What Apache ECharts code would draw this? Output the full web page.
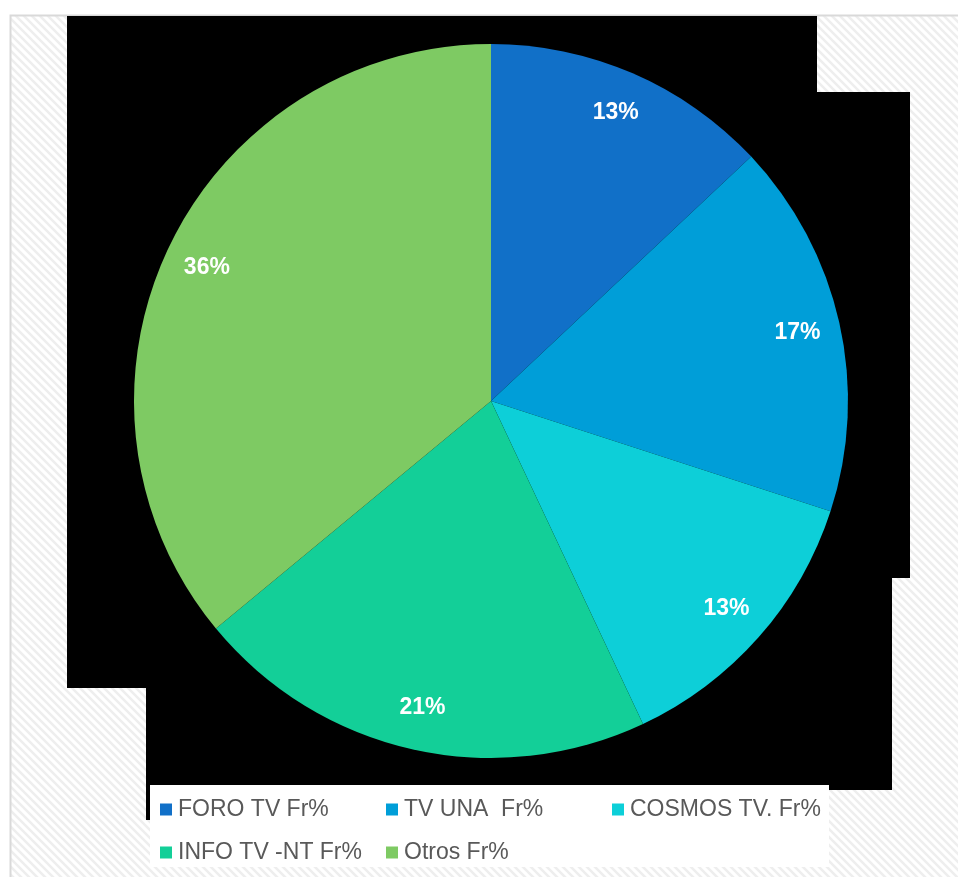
<!DOCTYPE html>
<html>
<head>
<meta charset="utf-8">
<script src="https://cdn.jsdelivr.net/npm/echarts@6/dist/echarts.min.js"></script>
<style>
  html, body { margin: 0; padding: 0; background: #ffffff; }
  #chart { width: 958px; height: 877px; }
</style>
</head>
<body>
<div id="chart"></div>
<script>
// Audience share by channel
const channels = ['FORO TV Fr%', 'TV UNA  Fr%', 'COSMOS TV. Fr%', 'INFO TV -NT Fr%', 'Otros Fr%'];
const shares = [13, 17, 13, 21, 36];
const sliceColors = ['#1170c8', '#009ed8', '#0dcfd8', '#13cf98', '#7eca63'];

// diagonal hatch tile for the frame background
function hatchTile() {
  const c = document.createElement('canvas');
  c.width = 8; c.height = 8;
  const g = c.getContext('2d');
  g.fillStyle = '#ffffff';
  g.fillRect(0, 0, 8, 8);
  g.strokeStyle = '#eeeeee';
  g.lineWidth = 2.5;
  g.beginPath();
  g.moveTo(-2, -2); g.lineTo(10, 10);
  g.moveTo(-10, -2); g.lineTo(2, 10);
  g.moveTo(6, -2); g.lineTo(18, 10);
  g.stroke();
  return c;
}

const chart = echarts.init(document.getElementById('chart'), null, { renderer: 'canvas' });

const pieData = channels.map((n, i) => ({ name: n, value: shares[i], itemStyle: { color: sliceColors[i] } }));
const labelData = channels.map((n, i) => ({ name: n, value: shares[i] }));

const center = [491, 401];
const R = 357;

// legend entries laid out in a 3 + 2 grid
const legendSlots = [
  { left: 160, top: 798 },
  { left: 386, top: 798 },
  { left: 612, top: 798 },
  { left: 160, top: 841 },
  { left: 386, top: 841 }
];

const blackBlocks = [
  [67, 16, 750, 672],
  [817, 92, 93, 486],
  [817, 578, 75, 212],
  [146, 688, 671, 102],
  [146, 785, 6, 35]
];

chart.setOption({
  animation: false,
  backgroundColor: '#ffffff',
  graphic: [
    {
      type: 'rect', z: -30, silent: true,
      shape: { x: 10.5, y: 15.5, width: 960, height: 880 },
      style: { fill: { image: hatchTile(), repeat: 'repeat' }, stroke: '#d9d9d9', lineWidth: 2 }
    },
    ...blackBlocks.map(b => ({
      type: 'rect', z: -20, silent: true,
      shape: { x: b[0], y: b[1], width: b[2], height: b[3] },
      style: { fill: '#000000' }
    })),
    {
      type: 'rect', z: -10, silent: true,
      shape: { x: 150, y: 785, width: 679, height: 82 },
      style: { fill: '#ffffff' }
    }
  ],
  legend: legendSlots.map((s, i) => ({
    data: [channels[i]],
    left: s.left,
    top: s.top,
    icon: 'rect',
    itemWidth: 12,
    itemHeight: 12,
    itemGap: 0,
    padding: 0,
    selectedMode: false,
    textStyle: { fontFamily: 'Liberation Sans, Arial, sans-serif', fontSize: 23, color: '#595959', padding: [0, 0, 0, 1] }
  })),
  series: [
    {
      type: 'pie',
      center: center,
      radius: [0, R],
      startAngle: 90,
      clockwise: true,
      silent: true,
      label: { show: false },
      labelLine: { show: false },
      itemStyle: { borderWidth: 0 },
      data: pieData
    },
    {
      type: 'pie',
      center: center,
      radius: [265, R],
      startAngle: 90,
      clockwise: true,
      silent: true,
      itemStyle: { color: 'rgba(0,0,0,0)', borderWidth: 0 },
      label: {
        show: true,
        position: 'inside',
        formatter: p => p.value + '%',
        color: '#ffffff',
        fontFamily: 'Liberation Sans, Arial, sans-serif',
        fontWeight: 'bold',
        fontSize: 23
      },
      labelLine: { show: false },
      data: labelData
    }
  ]
});
</script>
</body>
</html>
